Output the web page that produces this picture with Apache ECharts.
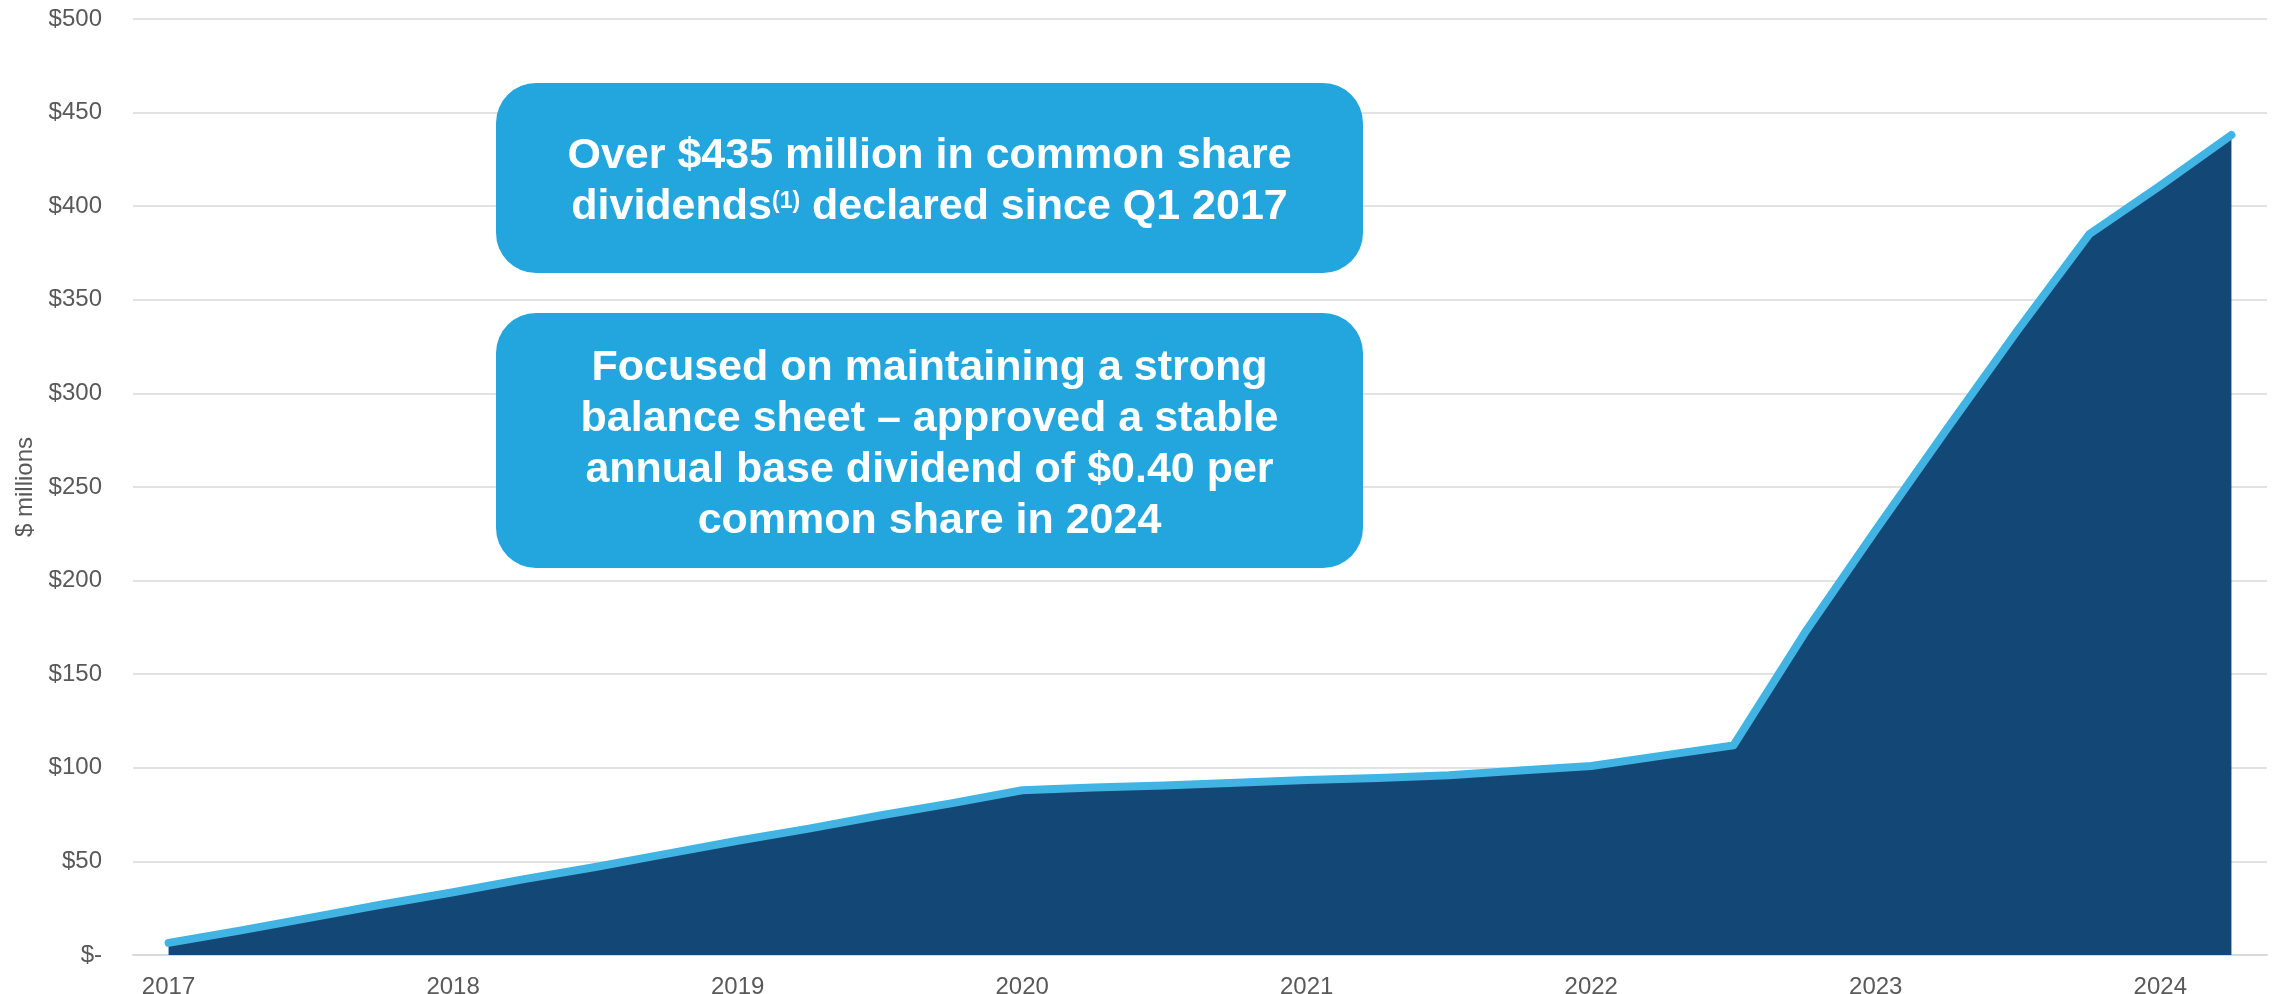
<!DOCTYPE html>
<html>
<head>
<meta charset="utf-8">
<title>Cumulative common share dividends</title>
<script src="https://cdn.jsdelivr.net/npm/echarts@6/dist/echarts.min.js"></script>
<style>
  html, body { margin: 0; padding: 0; background: #fff; }
  #chartBox { width: 2277px; height: 994px; }
</style>
</head>
<body>
<div id="chartBox"></div>
<script>
// quarters, 2017 Q1 .. 2024 Q2
var quarters = [
  '2017 Q1', '2017 Q2', '2017 Q3', '2017 Q4',
  '2018 Q1', '2018 Q2', '2018 Q3', '2018 Q4',
  '2019 Q1', '2019 Q2', '2019 Q3', '2019 Q4',
  '2020 Q1', '2020 Q2', '2020 Q3', '2020 Q4',
  '2021 Q1', '2021 Q2', '2021 Q3', '2021 Q4',
  '2022 Q1', '2022 Q2', '2022 Q3', '2022 Q4',
  '2023 Q1', '2023 Q2', '2023 Q3', '2023 Q4',
  '2024 Q1', '2024 Q2'
];
// cumulative dividends declared, $ millions
var dividends = [
  6.5, 13, 20, 27,
  33.5, 40.5, 47, 54,
  61, 67.5, 74.5, 81,
  88, 89.5, 90.5, 92,
  93.5, 94.5, 96, 98.5,
  101, 106.5, 112, 172,
  227, 281, 334, 385,
  411, 438
];
var yTicks = [0, 50, 100, 150, 200, 250, 300, 350, 400, 450, 500];

var calloutTop = 'Over $435 million in common share\ndividends{s|(1)} declared since Q1 2017';
var calloutBottom = 'Focused on maintaining a strong\nbalance sheet \u2013 approved a stable\nannual base dividend of $0.40 per\ncommon share in 2024';

var FONT = "'Liberation Sans', Arial, sans-serif";
var chart = echarts.init(document.getElementById('chartBox'));

// rounded blue box with centred white text
function callout(x, y, w, h, text) {
  return {
    type: 'group',
    left: x,
    top: y,
    children: [
      {
        type: 'rect',
        z: 100,
        shape: { x: 0, y: 0, width: w, height: h, r: 40 },
        style: { fill: '#23A6DD' }
      },
      {
        type: 'text',
        z: 101,
        x: w / 2,
        y: h / 2 + 4,
        style: {
          text: text,
          fill: '#ffffff',
          fontFamily: FONT,
          fontWeight: 'bold',
          fontSize: 43,
          lineHeight: 51,
          align: 'center',
          verticalAlign: 'middle',
          rich: {
            // superscript note marker
            s: {
              fill: '#ffffff',
              fontFamily: FONT,
              fontWeight: 'bold',
              fontSize: 23,
              lineHeight: 37,
              padding: [0, 0, 12, 0],
              verticalAlign: 'middle'
            }
          }
        }
      }
    ]
  };
}

var option = {
  backgroundColor: '#ffffff',
  animation: false,
  grid: { left: 133, right: 10, top: 19, bottom: 39, containLabel: false, outerBoundsMode: 'none' },
  xAxis: {
    type: 'category',
    data: quarters,
    boundaryGap: true,
    axisLine: { lineStyle: { color: '#D9D9D9', width: 2 } },
    axisTick: { interval: 0, length: 6, lineStyle: { color: '#D9D9D9', width: 2 } },
    axisLabel: {
      interval: 3,
      margin: 20,
      color: '#595959',
      fontFamily: FONT,
      fontSize: 24,
      formatter: function (v) { return v.slice(0, 4); }
    }
  },
  yAxis: {
    type: 'value',
    min: yTicks[0],
    max: yTicks[yTicks.length - 1],
    interval: 50,
    name: '$ millions',
    nameLocation: 'middle',
    nameRotate: 90,
    nameGap: 94,
    nameTextStyle: { color: '#595959', fontFamily: FONT, fontSize: 24 },
    axisLine: { show: false },
    axisTick: { show: false },
    splitLine: { lineStyle: { color: '#D9D9D9', width: 1.5 } },
    axisLabel: {
      margin: 31,
      color: '#595959',
      fontFamily: FONT,
      fontSize: 24,
      formatter: function (v) { return v === 0 ? '$-' : '$' + v; }
    }
  },
  series: [
    {
      name: 'Cumulative dividends',
      type: 'line',
      data: dividends,
      symbol: 'none',
      lineStyle: { color: '#41B4E3', width: 8, cap: 'round', join: 'round' },
      areaStyle: { color: '#134876', opacity: 1 }
    }
  ],
  graphic: [
    callout(496, 83, 867, 190, calloutTop),
    callout(496, 313, 867, 255, calloutBottom)
  ]
};

chart.setOption(option);
</script>
</body>
</html>
